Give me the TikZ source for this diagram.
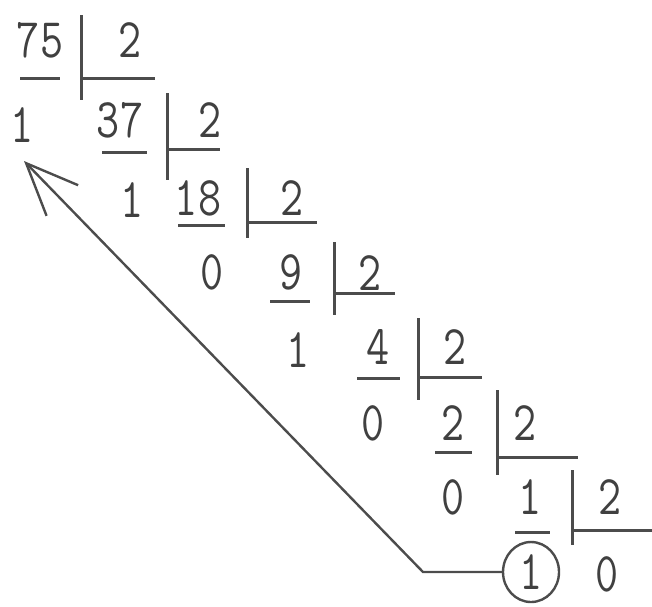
\documentclass[tikz,border=0pt]{standalone}
\usetikzlibrary{arrows.meta,shapes.geometric}
\newcommand{\dg}[1]{\scalebox{0.8}[1]{#1}}
\begin{document}
\begin{tikzpicture}[x=1pt,y=-1pt,
  num/.style={font=\ttfamily\fontsize{56}{56}\selectfont, text=black!75, inner sep=0pt},
  rule/.style={draw=black!70, line width=3pt},
  conn/.style={draw=black!70, line width=2.4pt}]
\useasboundingbox (0,0) rectangle (652,606);
% row 0
\node[num] (d0) at (40,40) {\dg{75}};
\node[num] (q0) at (130,40) {\dg{2}};
\node[num] (r0) at (22,125) {\dg{1}};
\draw[rule] (81,15) -- (81,100);
\draw[rule] (81,78) -- (155,78);
\draw[rule] (20,78) -- (60,78);
% row 1
\node[num] (d1) at (120,120) {\dg{37}};
\node[num] (q1) at (210,120) {\dg{2}};
\node[num] (r1) at (132,200) {\dg{1}};
\draw[rule] (167,93) -- (167,180);
\draw[rule] (167,149) -- (220,149);
\draw[rule] (102,152) -- (147,152);
% row 2
\node[num] (d2) at (198,198) {\dg{18}};
\node[num] (q2) at (292,198) {\dg{2}};
\node[num] (r2) at (212,272) {\dg{0}};
\draw[rule] (247,168) -- (247,238);
\draw[rule] (247,222) -- (317,222);
\draw[rule] (178,225) -- (225,225);
% row 3
\node[num] (d3) at (291,272) {\dg{9}};
\node[num] (q3) at (370,273) {\dg{2}};
\node[num] (r3) at (298,350) {\dg{1}};
\draw[rule] (334,242) -- (334,315);
\draw[rule] (334,293) -- (395,293);
\draw[rule] (270,301) -- (310,301);
% row 4
\node[num] (d4) at (378,347) {\dg{4}};
\node[num] (q4) at (455,347) {\dg{2}};
\node[num] (r4) at (373,423) {\dg{0}};
\draw[rule] (418,318) -- (418,400);
\draw[rule] (418,377) -- (482,377);
\draw[rule] (357,378) -- (400,378);
% row 5
\node[num] (d5) at (453,423) {\dg{2}};
\node[num] (q5) at (525,423) {\dg{2}};
\node[num] (r5) at (453,497) {\dg{0}};
\draw[rule] (497,390) -- (497,475);
\draw[rule] (497,457) -- (578,457);
\draw[rule] (435,452) -- (472,452);
% row 6
\node[num] (d6) at (530,497) {\dg{1}};
\node[num] (q6) at (610,497) {\dg{2}};
\node[num, draw=black!70, line width=2.4pt, ellipse, minimum width=56pt, minimum height=60pt] (r6) at (531,572) {\dg{1}};
\node[num] (z6) at (607,574) {\dg{0}};
\draw[rule] (572,470) -- (572,545);
\draw[rule] (572,530) -- (652,530);
\draw[rule] (515,532) -- (550,532);
% connector
\coordinate (bend) at (423,572);
\coordinate (tip) at (24,161);
\draw[conn, -{Straight Barb[length=52pt,width=44pt,line width=2.4pt]}] (r6.west) -- (bend) -- (tip);
\end{tikzpicture}
\end{document}
